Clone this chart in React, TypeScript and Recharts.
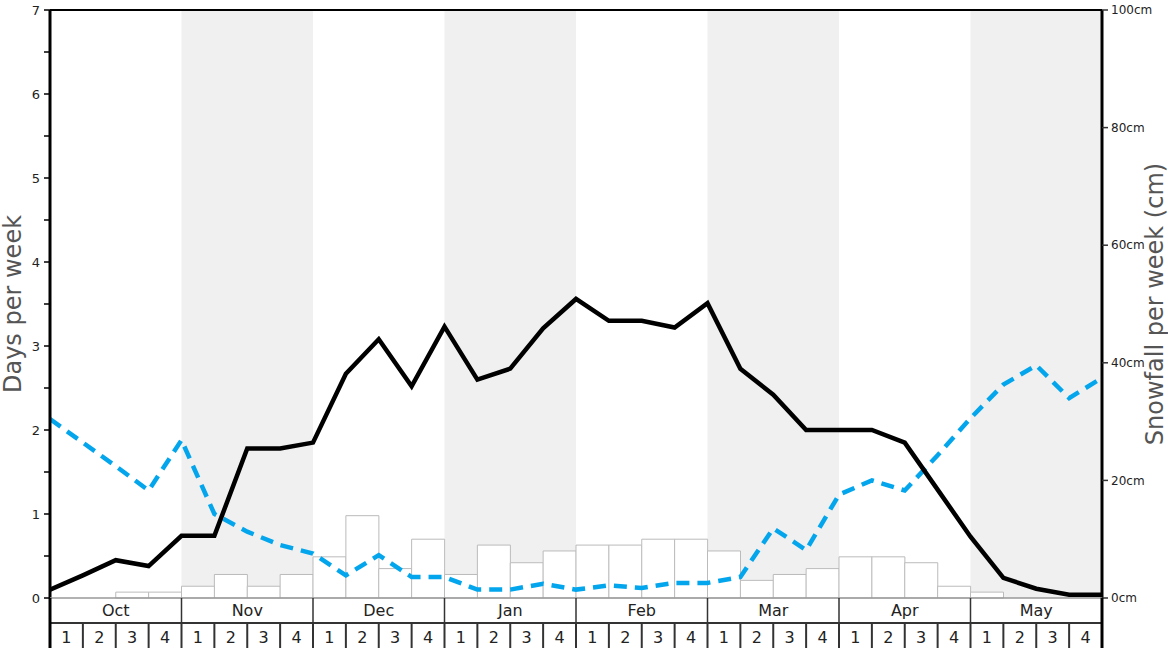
import React from "react";
import {
  ComposedChart,
  Bar,
  Line,
  XAxis,
  YAxis,
  ReferenceArea,
  ReferenceLine,
  Label,
} from "recharts";

// months and week labels along the bottom
const MONTHS = ["Oct", "Nov", "Dec", "Jan", "Feb", "Mar", "Apr", "May"];
const WEEKS = ["1", "2", "3", "4"];

// snowfall per week (cm), one value per week
const SNOWFALL = [
  0, 0, 1, 1,
  2, 4, 2, 4,
  7, 14, 5, 10,
  4, 9, 6, 8,
  9, 9, 10, 10,
  8, 3, 4, 5,
  7, 7, 6, 2,
  1, 0, 0, 0,
];

// days per week, read at the week boundaries (33 points)
const SNOW_DAYS = [
  0.1, 0.27, 0.45, 0.38, 0.74, 0.74, 1.78, 1.78, 1.85, 2.67, 3.08, 2.52, 3.23,
  2.6, 2.73, 3.21, 3.56, 3.3, 3.3, 3.22, 3.51, 2.73, 2.42, 2.0, 2.0, 2.0, 1.85,
  1.29, 0.73, 0.24, 0.11, 0.04, 0.04,
];

const OTHER_DAYS = [
  2.13, 1.85, 1.57, 1.28, 1.88, 1.0, 0.79, 0.63, 0.53, 0.27, 0.51, 0.25, 0.25,
  0.1, 0.1, 0.17, 0.1, 0.15, 0.12, 0.18, 0.18, 0.25, 0.83, 0.57, 1.23, 1.4,
  1.28, 1.7, 2.14, 2.54, 2.77, 2.38, 2.62,
];

const DAY_TICKS = [0, 0.5, 1, 1.5, 2, 2.5, 3, 3.5, 4, 4.5, 5, 5.5, 6, 6.5, 7];
const CM_TICKS = [0, 20, 40, 60, 80, 100];
// shaded months (week index ranges)
const SHADED = [
  [4, 8],
  [12, 16],
  [20, 24],
  [28, 32],
];

const weekData = SNOWFALL.map((snow, i) => ({
  key: `${MONTHS[Math.floor(i / 4)]}-${WEEKS[i % 4]}`,
  snow,
}));

const pointData = SNOW_DAYS.map((d, i) => ({
  x: i,
  days: d,
  other: OTHER_DAYS[i],
}));

const FONT = "DejaVu Sans";
const W = 1168;
const H = 648;
const AXIS_H = 50;
const BASE_Y = H - AXIS_H; // top of the month/week rows

const DaysTick = (props: any) => {
  const { x, y, payload } = props;
  if (!Number.isInteger(payload.value)) return null;
  return (
    <text x={x} y={y} dy="0.35em" textAnchor="end" fontSize={13} fill="#222" fontFamily={FONT}>
      {payload.value}
    </text>
  );
};

const CmTick = (props: any) => {
  const { x, y, payload } = props;
  return (
    <text x={x} y={y} dy="0.35em" textAnchor="start" fontSize={12} fill="#222" fontFamily={FONT}>
      {payload.value}cm
    </text>
  );
};

const WeekTick = (props: any) => {
  const { x, payload, index } = props;
  const y = BASE_Y;
  const i = payload.index ?? index;
  const w = payload.offset ? payload.offset * 2 : 1052 / 32;
  const left = x - w / 2;
  const total = w * weekData.length;
  return (
    <g fontFamily={FONT}>
      {i === 0 && (
        <>
          <line x1={left} x2={left + total} y1={y} y2={y} stroke="#999" strokeWidth={1.5} />
          <line x1={left} x2={left + total} y1={y + 25} y2={y + 25} stroke="#333" strokeWidth={2} />
          <line x1={left} x2={left} y1={y} y2={y + 50} stroke="#000" strokeWidth={3} />
          <line x1={left + total} x2={left + total} y1={y} y2={y + 50} stroke="#000" strokeWidth={3} />
        </>
      )}
      {i % 4 === 0 && (
        <>
          {i > 0 && <line x1={left} x2={left} y1={y} y2={y + 25} stroke="#333" strokeWidth={1.5} />}
          <text x={left + w * 2} y={y + 12} dy="0.35em" textAnchor="middle" fontSize={16} fill="#222">
            {MONTHS[i / 4]}
          </text>
        </>
      )}
      {i > 0 && <line x1={left} x2={left} y1={y + 25} y2={y + 50} stroke="#333" strokeWidth={2} />}
      <text x={x} y={y + 39} dy="0.35em" textAnchor="middle" fontSize={16} fill="#222">
        {WEEKS[i % 4]}
      </text>
    </g>
  );
};

export default function App() {
  return (
    <div style={{ position: "absolute", left: 0, top: 0, width: W, height: H, fontFamily: FONT }}>
      <ComposedChart
        width={W}
        height={H}
        data={weekData}
        margin={{ top: 10, right: 0, bottom: 0, left: 0 }}
        barCategoryGap={0}
        barGap={0}
      >
        <XAxis
          xAxisId="week"
          dataKey="key"
          type="category"
          height={AXIS_H}
          interval={0}
          tickSize={0}
          tickMargin={0}
          tickLine={false}
          axisLine={false}
          tick={<WeekTick />}
        />
        <XAxis xAxisId="pos" dataKey="x" type="number" domain={[0, 32]} allowDataOverflow hide />
        <YAxis
          yAxisId="days"
          domain={[0, 7]}
          ticks={DAY_TICKS}
          interval={0}
          width={50}
          tickSize={6}
          tickMargin={4}
          tickLine={{ stroke: "#000", strokeWidth: 1.5 }}
          axisLine={{ stroke: "#000", strokeWidth: 3 }}
          tick={<DaysTick />}
        >
          <Label
            content={({ viewBox }: any) => {
              const cx = viewBox.x + 13;
              const cy = viewBox.y + viewBox.height / 2;
              return (
                <text x={cx} y={cy} dy="0.35em" textAnchor="middle" fontSize={24} fill="#555" fontFamily={FONT} transform={`rotate(-90 ${cx} ${cy})`}>
                  Days per week
                </text>
              );
            }}
          />
        </YAxis>
        <YAxis
          yAxisId="snow"
          orientation="right"
          domain={[0, 100]}
          ticks={CM_TICKS}
          interval={0}
          width={66}
          tickSize={6}
          tickMargin={3}
          tickLine={{ stroke: "#333", strokeWidth: 1.5 }}
          axisLine={{ stroke: "#000", strokeWidth: 3 }}
          tick={<CmTick />}
        >
          <Label
            content={({ viewBox }: any) => {
              const cx = viewBox.x + 53;
              const cy = viewBox.y + viewBox.height / 2;
              return (
                <text x={cx} y={cy} dy="0.35em" textAnchor="middle" fontSize={24} fill="#555" fontFamily={FONT} transform={`rotate(-90 ${cx} ${cy})`}>
                  Snowfall per week (cm)
                </text>
              );
            }}
          />
        </YAxis>
        {SHADED.map(([a, b]) => (
          <ReferenceArea
            key={a}
            xAxisId="pos"
            yAxisId="days"
            x1={a}
            x2={b}
            y1={0}
            y2={7}
            fill="#f0f0f0"
            fillOpacity={1}
            stroke="none"
          />
        ))}
        <Bar
          xAxisId="week"
          yAxisId="snow"
          dataKey="snow"
          fill="#fff"
          stroke="#bbb"
          strokeWidth={1}
          isAnimationActive={false}
        />
        <Line
          xAxisId="pos"
          yAxisId="days"
          data={pointData}
          dataKey="other"
          type="linear"
          stroke="#03a6ec"
          strokeWidth={4.5}
          strokeDasharray="13 8"
          dot={false}
          activeDot={false}
          isAnimationActive={false}
        />
        <Line
          xAxisId="pos"
          yAxisId="days"
          data={pointData}
          dataKey="days"
          type="linear"
          stroke="#000"
          strokeWidth={4.5}
          dot={false}
          activeDot={false}
          isAnimationActive={false}
        />
        <ReferenceLine xAxisId="pos" yAxisId="days" y={7} stroke="#000" strokeWidth={2} />
      </ComposedChart>
    </div>
  );
}
